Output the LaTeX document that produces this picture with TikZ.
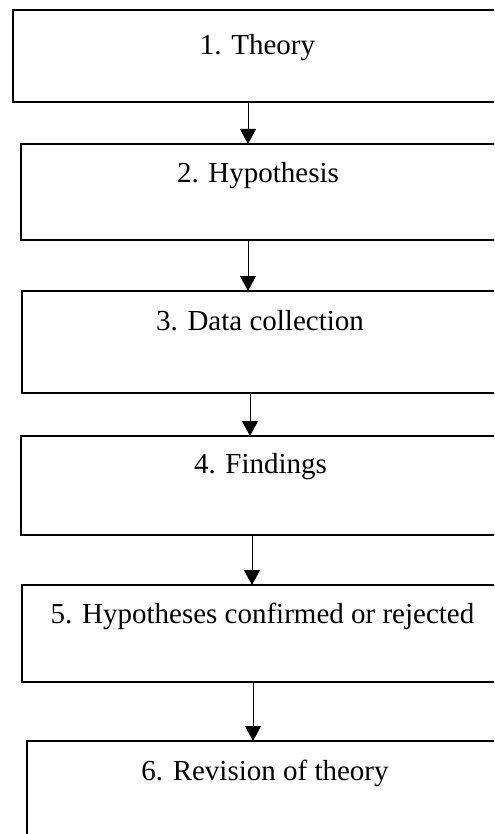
\documentclass[tikz,border=0pt]{standalone}
\usepackage{fontspec}
\setmainfont{Liberation Serif}
\usetikzlibrary{arrows.meta}
\begin{document}
\begin{tikzpicture}[x=0.5pt,y=-0.5pt,
  stagebox/.style={draw=black,line width=1pt,rectangle,inner sep=0pt,outer sep=0pt},
  stagetext/.style={anchor=base,inner sep=0pt,font=\fontsize{14.5pt}{17pt}\selectfont},
  flow/.style={draw=black,line width=0.5pt,-{Triangle[width=8pt,length=7.5pt]}}]
\clip (0,0) rectangle (494,834);
\useasboundingbox (0,0) rectangle (494,834);
% stage boxes (their right sides run past the page edge)
\node[stagebox,minimum width=248.65pt,minimum height=46pt] (b1) at (261.35,56) {};
\node[stagebox,minimum width=244.65pt,minimum height=48pt] (b2) at (265.35,192) {};
\node[stagebox,minimum width=244pt,minimum height=51pt] (b3) at (266,342) {};
\node[stagebox,minimum width=244.5pt,minimum height=49.5pt] (b4) at (265.5,485.5) {};
\node[stagebox,minimum width=244pt,minimum height=48.5pt] (b5) at (266,633.5) {};
\node[stagebox,minimum width=241.5pt,minimum height=79pt] (b6) at (268.5,820) {};
% stage labels
\node[stagetext] (t1) at (257.5,55) {1. Theory};
\node[stagetext] (t2) at (258,183) {2. Hypothesis};
\node[stagetext] (t3) at (260,330) {3. Data collection};
\node[stagetext] (t4) at (260.5,473) {4. Findings};
\node[stagetext] (t5) at (262.5,623) {5. Hypotheses confirmed or rejected};
\node[stagetext] (t6) at (265,780) {6. Revision of theory};
% connectors
\draw[flow] (b1.south -| 248,0) -- (b2.north -| 248,0);
\draw[flow] (b2.south -| 248,0) -- (b3.north -| 248,0);
\draw[flow] (b3.south -| 250,0) -- (b4.north -| 250,0);
\draw[flow] (b4.south -| 252,0) -- (b5.north -| 252,0);
\draw[flow] (b5.south -| 253,0) -- (b6.north -| 253,0);
\end{tikzpicture}
\end{document}
